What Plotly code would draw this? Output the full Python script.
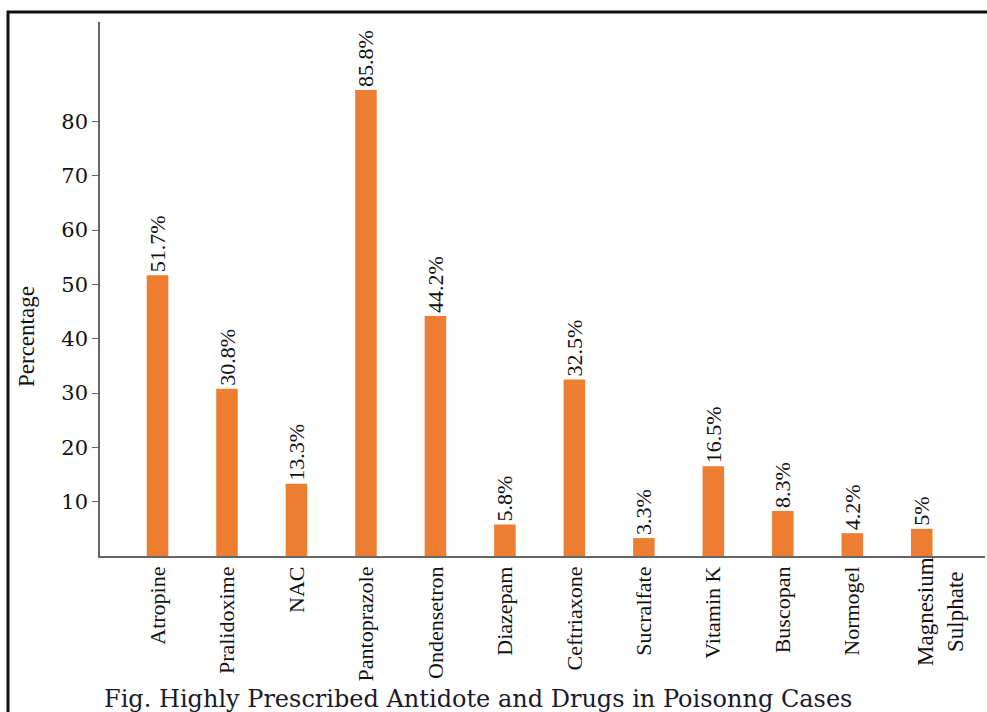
import plotly.graph_objects as go

categories = ["Atropine", "Pralidoxime", "NAC", "Pantoprazole", "Ondensetron", "Diazepam",
              "Ceftriaxone", "Sucralfate", "Vitamin K", "Buscopan", "Normogel",
              "Magnesium Sulphate"]
tick_labels = ["Atropine", "Pralidoxime", "NAC", "Pantoprazole", "Ondensetron", "Diazepam",
               "Ceftriaxone", "Sucralfate", "Vitamin K", "Buscopan", "Normogel", ""]
last_label = "Magnesium<br>Sulphate"
percentages = [51.7, 30.8, 13.3, 85.8, 44.2, 5.8, 32.5, 3.3, 16.5, 8.3, 4.2, 5]
value_labels = ["51.7%", "30.8%", "13.3%", "85.8%", "44.2%", "5.8%", "32.5%", "3.3%",
                "16.5%", "8.3%", "4.2%", "5%"]
y_ticks = [10, 20, 30, 40, 50, 60, 70, 80]

W, H = 987, 712
L, R, T, B = 100, 2, 22, 156
pw, ph = W - L - R, H - T - B

def px(xp):
    return (xp - L) / pw

def py(yp):
    return (H - B - yp) / ph

SERIF = "Liberation Serif, Times New Roman, serif"
WIDE_SERIF = "DejaVu Serif, serif"

fig = go.Figure(go.Bar(
    x=categories, y=percentages, width=0.31,
    marker=dict(color="#ED7D31", line=dict(width=0)),
    text=value_labels, textposition="outside", textangle=-90, constraintext="none",
    textfont=dict(family=SERIF, size=22, color="#111111"),
    cliponaxis=False, showlegend=False,
))

fig.update_layout(
    width=W, height=H,
    margin=dict(l=L, r=R, t=T, b=B, pad=0),
    paper_bgcolor="white", plot_bgcolor="white",
    xaxis=dict(
        type="category", range=[-0.828, 11.91], showline=True, linecolor="#666666",
        linewidth=1.5, showgrid=False, ticks="", tickangle=-90,
        tickvals=categories, ticktext=tick_labels,
        tickfont=dict(family=SERIF, size=22, color="#111111"),
        zeroline=False,
    ),
    yaxis=dict(
        range=[0, 98.3], tickvals=y_ticks, showline=True, linecolor="#666666",
        linewidth=1.5, showgrid=False, ticks="outside", ticklen=6, tickcolor="#666666",
        tickwidth=1.2, tickfont=dict(family=WIDE_SERIF, size=21, color="#111111"),
        zeroline=False,
    ),
    annotations=[
        dict(text="Percentage", xref="paper", yref="paper", x=px(26), y=py(337),
             textangle=-90, showarrow=False, xanchor="center", yanchor="middle",
             font=dict(family=SERIF, size=23, color="#111111")),
        dict(text=last_label, xref="paper", yref="paper", x=px(940), y=py(612),
             textangle=-90, showarrow=False, xanchor="center", yanchor="middle",
             align="center",
             font=dict(family=SERIF, size=23, color="#111111")),
        dict(text="Fig. Highly Prescribed Antidote and Drugs in Poisonng Cases",
             xref="paper", yref="paper", x=px(102), y=py(699), showarrow=False,
             xanchor="left", yanchor="middle",
             font=dict(family=WIDE_SERIF, size=24, color="#1a1a2a")),
    ],
    shapes=[
        dict(type="rect", xref="paper", yref="paper", x0=px(8), x1=px(W + 20),
             y0=py(H + 20), y1=py(12), line=dict(color="#111111", width=3),
             fillcolor="rgba(0,0,0,0)", layer="above"),
    ],
)

fig.write_html("out.html")
